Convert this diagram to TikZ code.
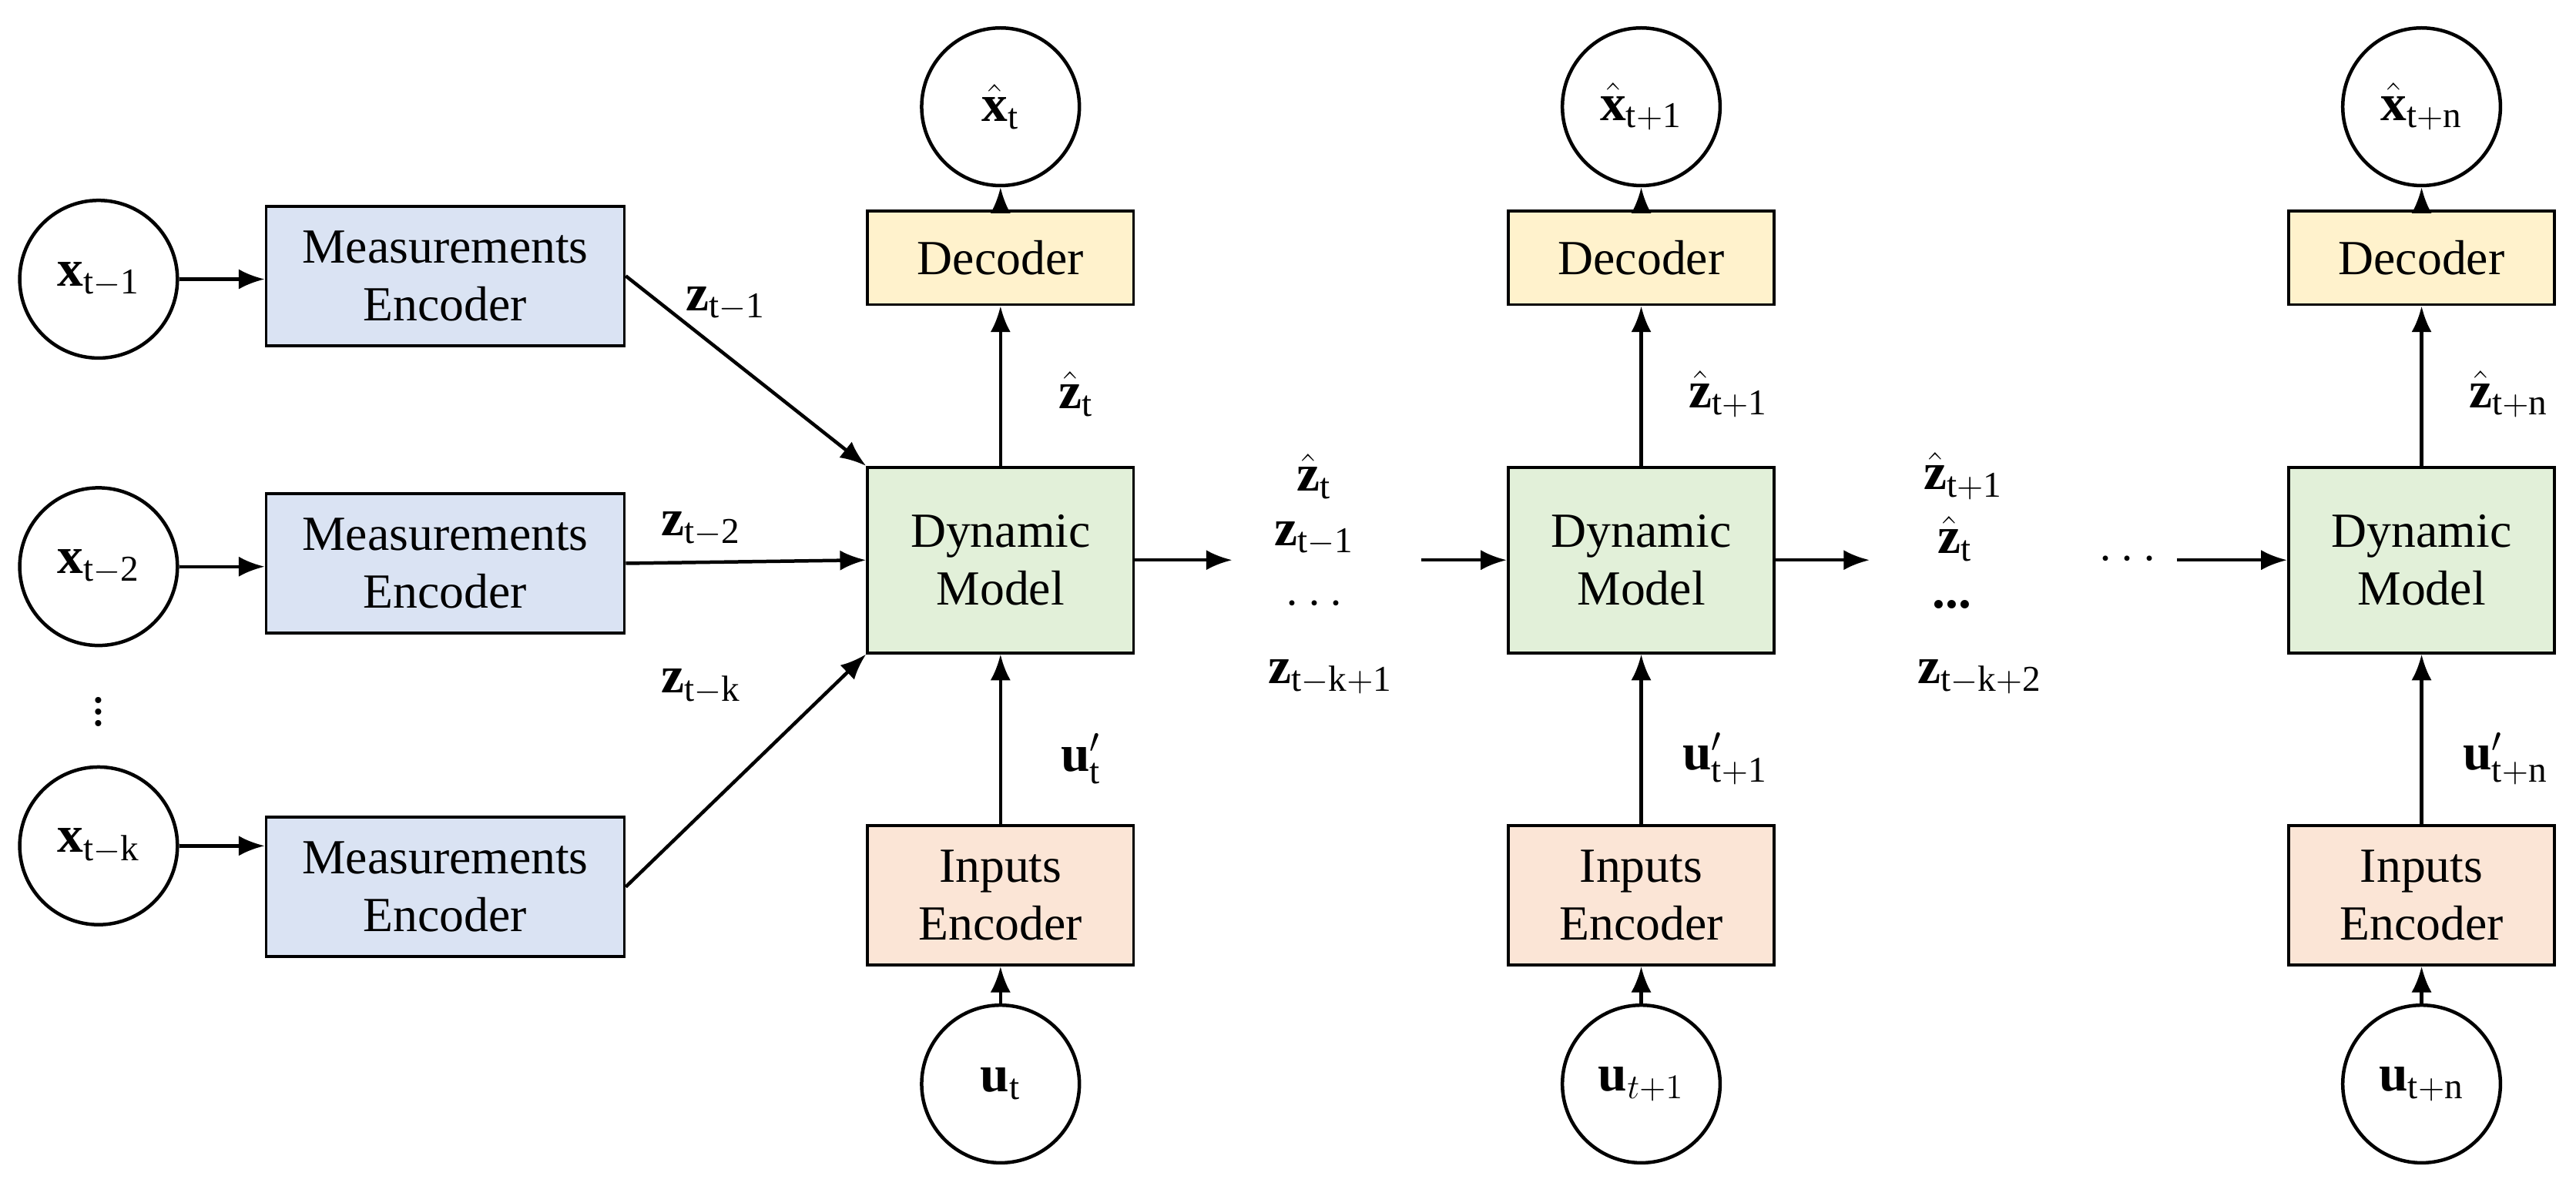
\documentclass[tikz,border=0pt]{standalone}
\usepackage{fontspec}
\setmainfont{Liberation Serif}
\usetikzlibrary{arrows.meta}
\begin{document}
\begin{tikzpicture}[x=0.02cm,y=-0.02cm,
  txt/.style={font=\fontsize{17}{20}\selectfont},
  lab/.style={font=\fontsize{18}{20}\selectfont},
  circ/.style={circle,draw,line width=1.2pt,minimum size=96*0.02cm,inner sep=0pt,font=\fontsize{18}{20}\selectfont},
  box/.style={draw,line width=1pt,align=center,txt,inner sep=0pt},
  me/.style={box,fill={rgb,255:red,218;green,227;blue,243},minimum width=218*0.02cm,minimum height=85*0.02cm},
  dec/.style={box,fill={rgb,255:red,255;green,242;blue,204},minimum width=162*0.02cm,minimum height=57*0.02cm},
  dm/.style={box,fill={rgb,255:red,226;green,240;blue,217},minimum width=162*0.02cm,minimum height=113*0.02cm},
  ie/.style={box,fill={rgb,255:red,251;green,229;blue,214},minimum width=162*0.02cm,minimum height=85*0.02cm},
  arr/.style={-{Latex[length=9pt,width=7pt]},line width=1.2pt}]
\useasboundingbox (0,0) rectangle (1568,722);
% left inputs
\node[circ] (x1) at (60,170) {$\mathbf{x}_{\mathrm{t-1}}$};
\node[circ] (x2) at (60,345) {$\mathbf{x}_{\mathrm{t-2}}$};
\node[circ] (xk) at (60,515) {$\mathbf{x}_{\mathrm{t-k}}$};
\node[lab] (vd) at (60,428) {$\vdots$};
\node[me] (m1) at (271,168) {Measurements\\Encoder};
\node[me] (m2) at (271,343) {Measurements\\Encoder};
\node[me] (mk) at (271,540) {Measurements\\Encoder};
\draw[arr] (x1) -- (m1.west|-x1);
\draw[arr] (x2) -- (m2.west|-x2);
\draw[arr] (xk) -- (mk.west|-xk);
% stage 1
\node[dm] (d1) at (609,341) {Dynamic\\Model};
\node[dec] (c1) at (609,157) {Decoder};
\node[circ] (o1) at (609,65) {$\hat{\mathbf{x}}_{\mathrm{t}}$};
\node[ie] (i1) at (609,545) {Inputs\\Encoder};
\node[circ] (u1) at (609,660) {$\mathbf{u}_{\mathrm{t}}$};
\draw[arr] (m1.east) -- (d1.north west);
\draw[arr] (m2.east) -- (d1.west);
\draw[arr] (mk.east) -- (d1.south west);
\node[lab] (l1) at (442,185) {$\mathbf{z}_{\mathrm{t-1}}$};
\node[lab] (l2) at (427,322) {$\mathbf{z}_{\mathrm{t-2}}$};
\node[lab] (lk) at (427,418) {$\mathbf{z}_{\mathrm{t-k}}$};
\draw[arr] (d1) -- (c1);
\draw[arr] (c1) -- (o1);
\draw[arr] (i1) -- (d1);
\draw[arr] (u1) -- (i1);
\node[lab] (zh1) at (655,240) {$\hat{\mathbf{z}}_{\mathrm{t}}$};
\node[lab] (up1) at (658,462) {$\mathbf{u}'_{\mathrm{t}}$};
\coordinate (e1) at (750,341);
\draw[arr] (d1.east) -- (e1);
\node[lab] (s11) at (800,290) {$\hat{\mathbf{z}}_{\mathrm{t}}$};
\node[lab] (s12) at (800,328) {$\mathbf{z}_{\mathrm{t-1}}$};
\node[lab] (s13) at (800,368) {$\cdots$};
\node[lab] (s14) at (810,412) {$\mathbf{z}_{\mathrm{t-k+1}}$};
% stage 2
\node[dm] (d2) at (999,341) {Dynamic\\Model};
\node[dec] (c2) at (999,157) {Decoder};
\node[circ] (o2) at (999,65) {$\hat{\mathbf{x}}_{\mathrm{t+1}}$};
\node[ie] (i2) at (999,545) {Inputs\\Encoder};
\node[circ] (u2) at (999,660) {$\mathbf{u}_{t+1}$};
\coordinate (b2) at (865,341);
\draw[arr] (b2) -- (d2.west);
\draw[arr] (d2) -- (c2);
\draw[arr] (c2) -- (o2);
\draw[arr] (i2) -- (d2);
\draw[arr] (u2) -- (i2);
\node[lab] (zh2) at (1052,240) {$\hat{\mathbf{z}}_{\mathrm{t+1}}$};
\node[lab] (up2) at (1050,462) {$\mathbf{u}'_{\mathrm{t+1}}$};
\coordinate (e2) at (1138,341);
\draw[arr] (d2.east) -- (e2);
\node[lab] (s21) at (1195,290) {$\hat{\mathbf{z}}_{\mathrm{t+1}}$};
\node[lab] (s22) at (1190,328) {$\hat{\mathbf{z}}_{\mathrm{t}}$};
\node[lab] (s23) at (1188,368) {\textbf{...}};
\node[lab] (s24) at (1205,412) {$\mathbf{z}_{\mathrm{t-k+2}}$};
\node[lab] (dots) at (1295,341) {$\cdots$};
% stage n
\node[dm] (d3) at (1474,341) {Dynamic\\Model};
\node[dec] (c3) at (1474,157) {Decoder};
\node[circ] (o3) at (1474,65) {$\hat{\mathbf{x}}_{\mathrm{t+n}}$};
\node[ie] (i3) at (1474,545) {Inputs\\Encoder};
\node[circ] (u3) at (1474,660) {$\mathbf{u}_{\mathrm{t+n}}$};
\coordinate (b3) at (1325,341);
\draw[arr] (b3) -- (d3.west);
\draw[arr] (d3) -- (c3);
\draw[arr] (c3) -- (o3);
\draw[arr] (i3) -- (d3);
\draw[arr] (u3) -- (i3);
\node[lab] (zh3) at (1527,240) {$\hat{\mathbf{z}}_{\mathrm{t+n}}$};
\node[lab] (up3) at (1525,462) {$\mathbf{u}'_{\mathrm{t+n}}$};
\end{tikzpicture}
\end{document}
